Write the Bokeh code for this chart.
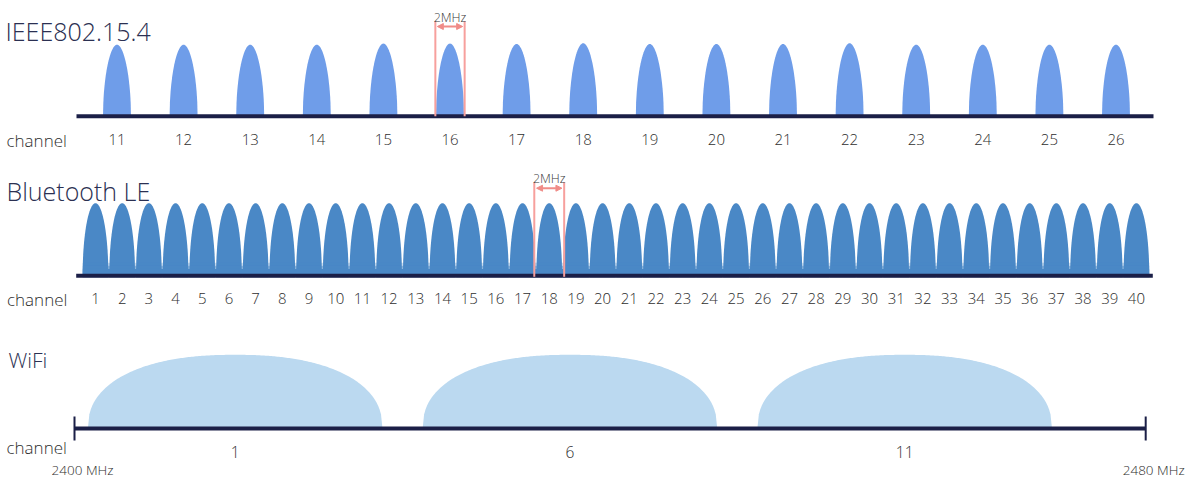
import numpy as np
from bokeh.plotting import figure
from bokeh.layouts import column
from bokeh.models import Range1d, Label, Arrow, NormalHead
from bokeh.core.properties import value
from bokeh.embed import file_html
from bokeh.resources import INLINE

# ---------------- data ----------------
IEEE_CHANNELS = [11, 12, 13, 14, 15, 16, 17, 18, 19, 20, 21, 22, 23, 24, 25, 26]
IEEE_CENTER_MHZ = [2405, 2410, 2415, 2420, 2425, 2430, 2435, 2440,
                   2445, 2450, 2455, 2460, 2465, 2470, 2475, 2480]
IEEE_LEVEL = [0.98, 0.98, 0.98, 0.98, 0.995, 0.995, 0.99, 1.0,
              0.99, 0.99, 0.99, 1.0, 0.98, 0.98, 0.98, 0.98]
IEEE_BW_MHZ = 2.1
IEEE_MARK_CHANNEL = 16

BLE_CHANNELS = [1, 2, 3, 4, 5, 6, 7, 8, 9, 10, 11, 12, 13, 14, 15, 16, 17, 18, 19, 20,
                21, 22, 23, 24, 25, 26, 27, 28, 29, 30, 31, 32, 33, 34, 35, 36, 37, 38, 39, 40]
BLE_CENTER_MHZ = [2402, 2404, 2406, 2408, 2410, 2412, 2414, 2416, 2418, 2420,
                  2422, 2424, 2426, 2428, 2430, 2432, 2434, 2436, 2438, 2440,
                  2442, 2444, 2446, 2448, 2450, 2452, 2454, 2456, 2458, 2460,
                  2462, 2464, 2466, 2468, 2470, 2472, 2474, 2476, 2478, 2480]
BLE_LEVEL = [1.0, 1.0, 1.0, 1.0, 1.0, 1.0, 1.0, 1.0, 1.0, 1.0,
             1.0, 1.0, 1.0, 1.0, 1.0, 1.0, 1.0, 1.0, 1.0, 1.0,
             1.0, 1.0, 1.0, 1.0, 1.0, 1.0, 1.0, 1.0, 1.0, 1.0,
             1.0, 1.0, 1.0, 1.0, 1.0, 1.0, 1.0, 1.0, 1.0, 1.0]
BLE_BW_MHZ = 2.0
BLE_MARK_CHANNEL = 18

WIFI_CHANNELS = [1, 6, 11]
WIFI_CENTER_MHZ = [2412, 2437, 2462]
WIFI_LEVEL = [1.0, 1.0, 1.0]
WIFI_BW_MHZ = 22
BAND_EDGES_MHZ = [2400, 2480]
BAND_LABELS = ["2400 MHz", "2480 MHz"]

MARK_LABEL = "2MHz"
TITLES = ["IEEE802.15.4", "Bluetooth LE", "WiFi"]
AXIS_NAME = "channel"

# ---------------- style ----------------
FONT = "'Open Sans Light', 'Open Sans'"
C_IEEE = "#6f9de9"
C_BLE = "#4a88c6"
C_WIFI = "#bbd9f0"
C_BASE = "#1b1f47"
C_RED = "#f7a09d"
C_ARROW = "#f08c88"
C_TITLE = "#2b3052"
C_TEXT = "#2e2e2e"

PAGE = 0
W = 1195


def panel(height, top_sy, base_sy, ref_mhz, ref_sx, ppm):
    x0 = ref_mhz - (ref_sx - PAGE) / ppm
    x1 = x0 + W / ppm
    ytop = base_sy - top_sy
    p = figure(width=W, height=height, x_range=Range1d(x0, x1),
               y_range=Range1d(ytop - height, ytop),
               output_backend="svg", toolbar_location=None,
               x_axis_type=None, y_axis_type=None, min_border=0,
               outline_line_color=None, background_fill_color="white",
               border_fill_color="white")
    conv = lambda sx: x0 + (sx - PAGE) / ppm
    return p, conv


def bumps(centers, levels, hw, h, n, npts=90):
    xs, ys = [], []
    u = np.linspace(-1, 1, npts)
    v = np.clip(1 - np.abs(u) ** n, 0, None) ** (1.0 / n)
    for c, lv in zip(centers, levels):
        xs.append(np.concatenate([[c - hw], c + hw * u, [c + hw]]))
        ys.append(np.concatenate([[-1.5], lv * h * v, [-1.5]]))
    return xs, ys


def marker(p, cx, half, y0, y1, ya, ha, yt):
    p.segment(x0=[cx - half, cx + half], y0=[y0, y0], x1=[cx - half, cx + half],
              y1=[y1, y1], line_color=C_RED, line_width=2)
    p.add_layout(Arrow(start=NormalHead(size=6, fill_color=C_ARROW, line_color=C_ARROW),
                       end=NormalHead(size=6, fill_color=C_ARROW, line_color=C_ARROW),
                       x_start=cx - ha, x_end=cx + ha, y_start=ya, y_end=ya,
                       line_color=C_ARROW, line_width=2))
    p.text(x=[cx], y=[yt], text=[MARK_LABEL], text_font=value(FONT),
           text_font_size="12.5px", text_color="#3a3a3a", text_align="center",
           text_baseline="alphabetic")


def labels(p, xs, y, texts, size):
    p.text(x=xs, y=[y] * len(xs), text=[str(t) for t in texts], text_font=value(FONT),
           text_font_size=size, text_color=C_TEXT, text_align="center",
           text_baseline="alphabetic")


def side_text(p, x, y, text, size, color):
    p.add_layout(Label(x=x, y=y, x_units="screen", y_units="data", text=text,
                       text_font=FONT, text_font_size=size, text_color=color,
                       text_baseline="alphabetic"))


# ---------------- IEEE 802.15.4 ----------------
p1, c1 = panel(160, 0, 115.7, 2405, 116.5, 13.32)
xs, ys = bumps(IEEE_CENTER_MHZ, IEEE_LEVEL, IEEE_BW_MHZ / 2, 73, 1.9)
p1.patches(xs=xs, ys=ys, fill_color=C_IEEE, line_color=None)
p1.segment(x0=[c1(76)], y0=[0], x1=[c1(1153)], y1=[0], line_color=C_BASE, line_width=4)
m = IEEE_CENTER_MHZ[IEEE_CHANNELS.index(IEEE_MARK_CHANNEL)]
marker(p1, m, 1.1, 0, 95, 89.7, 0.95, 98.7)
labels(p1, IEEE_CENTER_MHZ, -23.6, IEEE_CHANNELS, "15px")
side_text(p1, 5, 85.7, TITLES[0], "25px", C_TITLE)
side_text(p1, 6, -24.3, AXIS_NAME, "17px", C_TEXT)

# ---------------- Bluetooth LE ----------------
p2, c2 = panel(158, 160, 275.3, 2402, 95, 13.345)
hw = BLE_BW_MHZ / 2 * 0.965
xs, ys = bumps(BLE_CENTER_MHZ, BLE_LEVEL, hw, 72.6, 2.0)
p2.patches(xs=xs, ys=ys, fill_color=C_BLE, line_color=None)
p2.quad(left=[BLE_CENTER_MHZ[0] - hw] * 3, right=[BLE_CENTER_MHZ[-1] + hw] * 3,
        bottom=[0, 7, 10], top=[7, 10, 13], fill_color=C_BLE,
        fill_alpha=[1.0, 0.65, 0.3], line_color=None)
p2.segment(x0=[c2(75.7)], y0=[0], x1=[c2(1152.3)], y1=[0], line_color=C_BASE, line_width=4)
m = BLE_CENTER_MHZ[BLE_CHANNELS.index(BLE_MARK_CHANNEL)]
marker(p2, m, 1.12, -1, 93.6, 87.6, 0.95, 97)
labels(p2, BLE_CENTER_MHZ, -23, BLE_CHANNELS, "15px")
side_text(p2, 6, 85.3, TITLES[1], "25px", C_TITLE)
side_text(p2, 6.5, -24, AXIS_NAME, "17px", C_TEXT)

# ---------------- WiFi ----------------
p3, c3 = panel(161, 318, 428, 2400, 74, 13.39)
xs, ys = bumps(WIFI_CENTER_MHZ, WIFI_LEVEL, WIFI_BW_MHZ / 2, 73.7, 2.3, 200)
p3.patches(xs=xs, ys=ys, fill_color=C_WIFI, line_color=None)
p3.segment(x0=[BAND_EDGES_MHZ[0]], y0=[0], x1=[BAND_EDGES_MHZ[1]], y1=[0],
           line_color=C_BASE, line_width=4)
p3.segment(x0=BAND_EDGES_MHZ, y0=[12, 12], x1=BAND_EDGES_MHZ, y1=[-12, -12],
           line_color=C_BASE, line_width=2)
labels(p3, WIFI_CENTER_MHZ, -23.7, WIFI_CHANNELS, "15.5px")
p3.text(x=BAND_EDGES_MHZ, y=[-41.5, -41.5], text=BAND_LABELS, text_font=value(FONT),
        text_font_size="13.5px", text_color=C_TEXT, text_align="center",
        text_baseline="alphabetic", x_offset=8)
side_text(p3, 8, 68.7, TITLES[2], "21px", C_TITLE)
side_text(p3, 6, -18.7, AXIS_NAME, "17px", C_TEXT)

layout = column(p1, p2, p3, spacing=0)
open("out.html", "w").write(file_html(layout, INLINE))
